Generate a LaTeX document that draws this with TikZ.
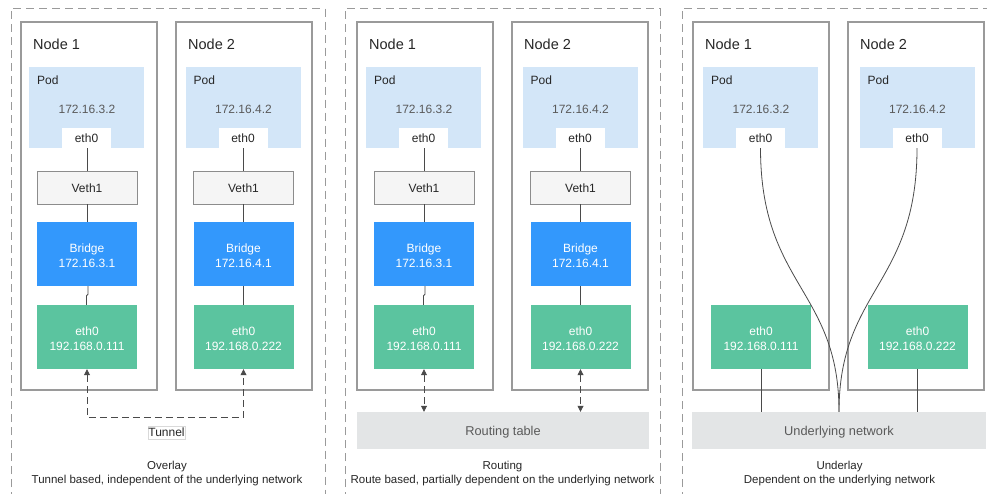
\documentclass[tikz,border=0pt]{standalone}
\usepackage{fontspec}
\setmainfont{Liberation Sans}
\usetikzlibrary{arrows.meta}

\definecolor{hostline}{HTML}{9A9A9A}
\definecolor{podfill}{HTML}{D3E6F8}
\definecolor{bridgefill}{HTML}{3398FC}
\definecolor{ethfill}{HTML}{5BC49F}
\definecolor{vethfill}{HTML}{F5F5F5}
\definecolor{vethline}{HTML}{8C8C8C}
\definecolor{netfill}{HTML}{E3E5E6}
\definecolor{wirecol}{HTML}{4A4A4A}
\definecolor{txtgray}{HTML}{5A5A5A}
\definecolor{txtdark}{HTML}{262626}

% a strut that pushes a two-line label slightly down inside its box
\newcommand{\toplift}{\rule{0pt}{11.7pt}}

\tikzset{
  f12/.style={font=\fontsize{12}{15}\selectfont},
  panel/.style={draw=hostline, line width=1pt, dash pattern=on 8pt off 5pt},
  host/.style={draw=hostline, line width=1.3pt, minimum width=136pt, minimum height=368pt, inner sep=0pt},
  hostlabel/.style={anchor=west, inner sep=0pt, text=txtdark, font=\fontsize{14.5}{17}\selectfont},
  pod/.style={fill=podfill, minimum width=115pt, minimum height=81pt, inner sep=0pt},
  podlabel/.style={f12, anchor=west, inner sep=0pt, text=txtdark},
  podip/.style={f12, inner sep=0pt, text=txtgray},
  podeth/.style={f12, fill=white, minimum width=49pt, minimum height=20pt, inner sep=0pt, text=txtdark},
  veth/.style={f12, fill=vethfill, draw=vethline, line width=0.8pt, minimum width=100pt, minimum height=33pt, inner sep=0pt, text=txtdark, text height=9.5pt, text depth=0pt},
  bridge/.style={f12, fill=bridgefill, minimum width=100pt, minimum height=64pt, inner sep=0pt, text=white, align=center},
  hosteth/.style={f12, fill=ethfill, minimum width=100pt, minimum height=64pt, inner sep=0pt, text=white, align=center},
  net/.style={fill=netfill, minimum height=37pt, inner sep=0pt, text=txtgray, font=\fontsize{12.8}{15}\selectfont, text height=9.6pt, text depth=0pt},
  wire/.style={draw=wirecol, line width=0.8pt},
  linkarrow/.style={wire, dash pattern=on 7pt off 4pt, {Triangle[length=6pt,width=6pt]}-{Triangle[length=6pt,width=6pt]}},
  tunnellabel/.style={f12, draw=black!15, line width=0.6pt, inner xsep=0.5pt, minimum height=13pt, inner ysep=0pt, text=txtdark},
  caption/.style={align=center, inner sep=0pt, text=txtdark, font=\fontsize{11.5}{14}\selectfont}
}

\begin{document}
\begin{tikzpicture}[x=1pt, y=-1pt]
\useasboundingbox (0,0) rectangle (987,494);

% three dashed panels, open at the bottom edge
\draw[panel] (11,500) -- (11,8.3) -- (325,8.3) -- (325,500);
\draw[panel] (345,500) -- (345,8.3) -- (660,8.3) -- (660,500);
\draw[panel] (682,500) -- (682,8.3) -- (995,8.3);

% hosts, pods and host interfaces common to all three models
\foreach \p/\bx/\cx in {o/0/0, r/336/337, u/672/674} {
  \node[host] (\p-h1) at (89+\bx,206) {};
  \node[host] (\p-h2) at (244+\bx,206) {};
  \node[hostlabel] (\p-l1) at (33+\bx,44.7) {Node 1};
  \node[hostlabel] (\p-l2) at (188+\bx,44.7) {Node 2};
  \node[pod] (\p-p1) at (86.75+\cx,107.5) {};
  \node[pod] (\p-p2) at (243.5+\cx,107.5) {};
  \node[podlabel] (\p-pl1) at (37+\cx,80) {Pod};
  \node[podlabel] (\p-pl2) at (193.5+\cx,80) {Pod};
  \node[podip] (\p-ip1) at (87+\cx,109) {172.16.3.2};
  \node[podip] (\p-ip2) at (243.5+\cx,109) {172.16.4.2};
  \node[podeth] (\p-e1) at (86.5+\cx,138) {eth0};
  \node[podeth] (\p-e2) at (243+\cx,138) {eth0};
  \node[hosteth] (\p-g1) at (87+\cx,337) {\toplift eth0\\192.168.0.111};
  \node[hosteth] (\p-g2) at (243.5+\cx,337) {\toplift eth0\\192.168.0.222};
}

% veth pair and bridge (overlay and routing)
\foreach \p/\cx in {o/0, r/337} {
  \node[veth] (\p-v1) at (87+\cx,187.5) {Veth1};
  \node[veth] (\p-v2) at (243.5+\cx,187.5) {Veth1};
  \node[bridge] (\p-b1) at (87+\cx,254) {\toplift Bridge\\172.16.3.1};
  \node[bridge] (\p-b2) at (243.5+\cx,254) {\toplift Bridge\\172.16.4.1};
  \draw[wire] (\p-e1.south -| \p-v1.north) -- (\p-v1.north);
  \draw[wire] (\p-e2.south -| \p-v2.north) -- (\p-v2.north);
  \draw[wire] (\p-v1.south) -- (\p-b1.north);
  \draw[wire] (\p-v2.south) -- (\p-b2.north);
  \draw[wire] ([xshift=1pt]\p-b1.south) -- ++(0,8) -- ++(-1.5,1.5) -- ([xshift=-0.5pt]\p-g1.north);
  \draw[wire] (\p-b2.south) -- (\p-g2.north);
}

% overlay: tunnel between the host interfaces
\draw[linkarrow] (o-g1.south) -- ++(0,48) -| (o-g2.south);
\node[tunnellabel] (o-tun) at (166.5,432.5) {Tunnel};
\node[caption] (o-cap) at (167,473.5) {Overlay\\Tunnel based, independent of the underlying network};

% routing: host interfaces talk to the routing table
\node[net, minimum width=292pt] (r-net) at (503,430.5) {Routing table};
\draw[linkarrow] (r-g1.south) -- (r-g1.south |- r-net.north);
\draw[linkarrow] (r-g2.south) -- (r-g2.south |- r-net.north);
\node[caption] (r-cap) at (502.5,473.5) {Routing\\Route based, partially dependent on the underlying network};

% underlay: pods and hosts attached straight to the network
\node[net, minimum width=294pt] (u-net) at (839,430.5) {Underlying network};
\draw[wire] (u-g1.south) -- (u-g1.south |- u-net.north);
\draw[wire] (u-g2.south) -- (u-g2.south |- u-net.north);
\draw[wire] (u-e1.south) .. controls +(0,137) and +(0,-122) .. (u-net.north);
\draw[wire] (u-e2.south) .. controls +(0,137) and +(0,-122) .. (u-net.north);
\node[caption] (u-cap) at (839.5,473.5) {Underlay\\Dependent on the underlying network};
\end{tikzpicture}
\end{document}
